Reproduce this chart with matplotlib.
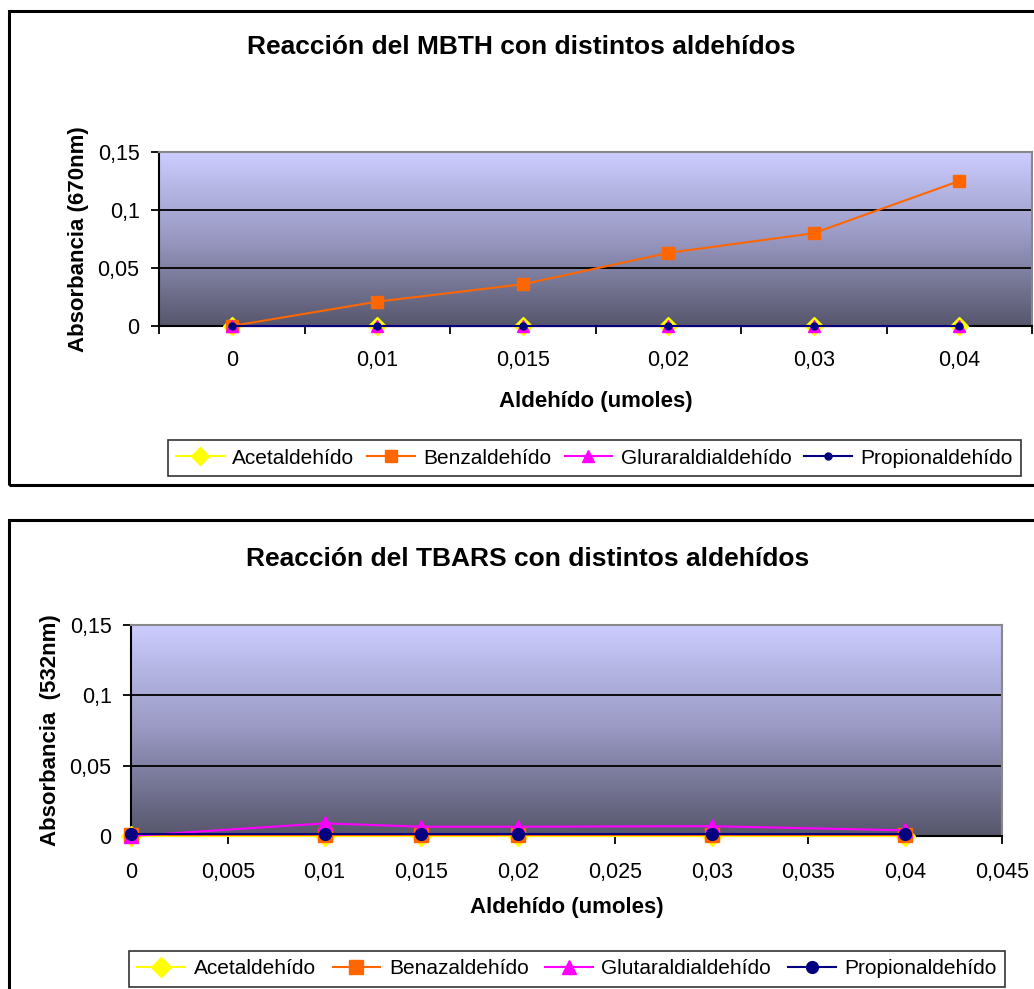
import matplotlib
matplotlib.use("Agg")
import matplotlib.pyplot as plt
import numpy as np
from matplotlib.colors import LinearSegmentedColormap
from matplotlib.patches import Rectangle

plt.rcParams['font.family'] = ['Liberation Sans', 'DejaVu Sans']

# ---------------- data ----------------
# Chart 1 (MBTH) - categorical x axis
mbth_categories = ["0", "0,01", "0,015", "0,02", "0,03", "0,04"]
mbth_acetaldehido = [0, 0, 0, 0, 0, 0]
mbth_benzaldehido = [0, 0.021, 0.036, 0.063, 0.080, 0.125]
mbth_glutaraldehido = [0, 0, 0, 0, 0, 0]
mbth_propionaldehido = [0, 0, 0, 0, 0, 0]
mbth_series_names = ["Acetaldehído", "Benzaldehído", "Gluraraldialdehído", "Propionaldehído"]

# Chart 2 (TBARS) - numeric x axis
tbars_x = [0, 0.01, 0.015, 0.02, 0.03, 0.04]
tbars_acetaldehido = [0, 0, 0, 0, 0, 0]
tbars_benazaldehido = [0.001, 0.001, 0.001, 0.001, 0.001, 0.001]
tbars_glutaraldehido = [0, 0.009, 0.0066, 0.0066, 0.007, 0.004]
tbars_propionaldehido = [0.0015, 0.0015, 0.0015, 0.0015, 0.0015, 0.0015]
tbars_series_names = ["Acetaldehído", "Benazaldehído", "Glutaraldialdehído", "Propionaldehído"]

y_ticks = [0, 0.05, 0.1, 0.15]
y_ticklabels = ["0", "0,05", "0,1", "0,15"]
tbars_xticks = [0, 0.005, 0.01, 0.015, 0.02, 0.025, 0.03, 0.035, 0.04, 0.045]
tbars_xticklabels = ["0", "0,005", "0,01", "0,015", "0,02", "0,025", "0,03", "0,035", "0,04", "0,045"]

# ---------------- figure ----------------
W, H = 1034, 989
fig = plt.figure(figsize=(W / 100, H / 100), dpi=100)
fig.patch.set_facecolor('white')

def px_rect(l, t, r, b):
    return [l / W, 1 - b / H, (r - l) / W, (b - t) / H]

grad_cmap = LinearSegmentedColormap.from_list("g", ["#56566C", "#9898C2", "#CCCCFF"])

# outer frames
fig.patches.append(Rectangle((9 / W, 1 - 485 / H), 1.1, (485 - 11) / H, transform=fig.transFigure,
                             fill=False, edgecolor='black', linewidth=2.2))
fig.patches.append(Rectangle((9 / W, -0.2), 1.1, 0.2 + (H - 520) / H, transform=fig.transFigure,
                             fill=False, edgecolor='black', linewidth=2.2))

COL_ACE = '#FFFF00'
COL_BEN = '#FF6600'
COL_GLU = '#FF00FF'
COL_PRO = '#000080'

TICK_FS = 15.5

def style_axes(ax):
    grad = np.linspace(0, 1, 256).reshape(-1, 1)
    ax.imshow(grad, extent=[0, 1, 0, 1], transform=ax.transAxes, aspect='auto',
              cmap=grad_cmap, origin='lower', zorder=-1)
    ax.set_ylim(0, 0.15)
    ax.set_yticks(y_ticks)
    ax.set_yticklabels(y_ticklabels)
    ax.yaxis.grid(True, color='black', linewidth=1.3)
    ax.yaxis.get_gridlines()[-1].set_visible(False)
    ax.yaxis.get_gridlines()[0].set_visible(False)
    for s in ['top', 'right']:
        ax.spines[s].set_color('#888888')
        ax.spines[s].set_linewidth(1.5)
    for s in ['left', 'bottom']:
        ax.spines[s].set_color('black')
        ax.spines[s].set_linewidth(1.5)
    ax.tick_params(axis='both', which='major', direction='out', length=6, width=1.3,
                   labelsize=TICK_FS, colors='black')
    ax.tick_params(axis='y', which='major', pad=8)

def make_legend(handles, names, cx, cy, colsp):
    leg = fig.legend(handles, names, loc='center', bbox_to_anchor=(cx / W, 1 - cy / H), ncol=4,
                     fontsize=15, frameon=True, fancybox=False, edgecolor='black',
                     handlelength=2.3, columnspacing=colsp, handletextpad=0.4,
                     borderpad=0.4, borderaxespad=0)
    leg.get_frame().set_linewidth(1.2)
    return leg

# ---------------- Chart 1 ----------------
ax1 = fig.add_axes(px_rect(159, 152, 1032, 326))
style_axes(ax1)
xc = np.arange(len(mbth_categories))
ax1.set_xlim(-0.5, len(mbth_categories) - 0.5)
ax1.set_xticks(np.arange(-0.5, len(mbth_categories)), labels=[])
ax1.set_xticks(xc, minor=True)
ax1.set_xticklabels(mbth_categories, minor=True)
ax1.tick_params(axis='x', which='minor', length=0, labelsize=TICK_FS, pad=17)

l1 = ax1.plot(xc, mbth_acetaldehido, color=COL_ACE, marker='D', markersize=9, lw=1.5, clip_on=False, zorder=3)
l2 = ax1.plot(xc, mbth_benzaldehido, color=COL_BEN, marker='s', markersize=8, lw=1.5, clip_on=False, zorder=4)
l3 = ax1.plot(xc, mbth_glutaraldehido, color=COL_GLU, marker='^', markersize=8, lw=1.5, clip_on=False, zorder=5)
l4 = ax1.plot(xc, mbth_propionaldehido, color=COL_PRO, marker='o', markersize=5, lw=1.5, clip_on=False, zorder=6)

ax1.set_xlabel("Aldehído (umoles)", fontsize=16, fontweight='bold', labelpad=15)
ax1.set_ylabel("Absorbancia (670nm)", fontsize=16, fontweight='bold', labelpad=6)
fig.text(521 / W, 1 - 47 / H, "Reacción del MBTH con distintos aldehídos", ha='center', va='center',
         fontsize=19, fontweight='bold')

make_legend([l1[0], l2[0], l3[0], l4[0]], mbth_series_names, 594.5, 458, 0.62)

# ---------------- Chart 2 ----------------
ax2 = fig.add_axes(px_rect(131, 625, 1002, 836))
style_axes(ax2)
ax2.set_xlim(0, 0.045)
ax2.set_xticks(tbars_xticks)
ax2.set_xticklabels(tbars_xticklabels)
ax2.tick_params(axis='x', which='major', pad=13)

m1 = ax2.plot(tbars_x, tbars_acetaldehido, color=COL_ACE, marker='D', markersize=10, lw=1.5, clip_on=False, zorder=3)
m2 = ax2.plot(tbars_x, tbars_benazaldehido, color=COL_BEN, marker='s', markersize=10.5, lw=1.5, clip_on=False, zorder=4)
m3 = ax2.plot(tbars_x, tbars_glutaraldehido, color=COL_GLU, marker='^', markersize=10, lw=1.5, clip_on=False, zorder=5)
m4 = ax2.plot(tbars_x, tbars_propionaldehido, color=COL_PRO, marker='o', markersize=8.5, lw=1.5, clip_on=False, zorder=6)

ax2.set_xlabel("Aldehído (umoles)", fontsize=16, fontweight='bold', labelpad=10)
ax2.set_ylabel("Absorbancia  (532nm)", fontsize=16, fontweight='bold', labelpad=6)
fig.text(528 / W, 1 - 559 / H, "Reacción del TBARS con distintos aldehídos", ha='center', va='center',
         fontsize=19, fontweight='bold')

make_legend([m1[0], m2[0], m3[0], m4[0]], tbars_series_names, 567, 969, 0.8)

fig.savefig("out.png", dpi=100)
